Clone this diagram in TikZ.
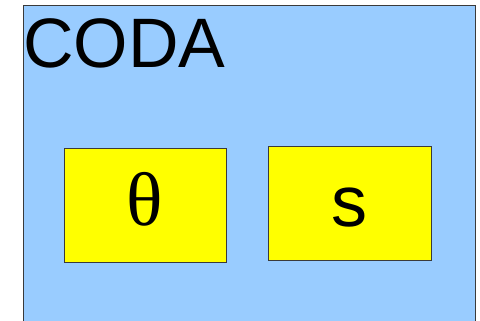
\documentclass[tikz,border=0pt]{standalone}
\usepackage{fontspec}
\setmainfont{Liberation Sans}
\newfontfamily\thetafont{Liberation Serif}
\usepackage{tikz}
\usetikzlibrary{positioning}
\definecolor{skyBlue}{HTML}{99CCFF}
\definecolor{boxYellow}{HTML}{FFFF00}
\definecolor{edge}{HTML}{3A3A3A}

\begin{document}
\begin{tikzpicture}[x=1pt,y=-1pt,
  param/.style={draw=edge,fill=boxYellow,line width=0.8pt,minimum width=162pt,minimum height=114pt,inner sep=0pt,font=\fontsize{72}{72}\selectfont},
  title/.style={anchor=base west,inner sep=0pt,font=\fontsize{70}{70}\selectfont}
]
  \useasboundingbox (0,0) rectangle (480,321);
  \begin{scope}
    \clip (0,0) rectangle (480,321);
    \filldraw[fill=skyBlue,draw=edge,line width=0.8pt] (23,5) rectangle (475,330);
  \end{scope}
  \node[title] (coda) at (23,68) {CODA};
  \node[param] (theta) at (145,205) {\raisebox{6pt}[\height][\depth]{\thetafont\fontsize{76}{76}\selectfont θ}};
  \node[param,minimum width=163pt] (s) at (349.5,203) {\raisebox{-5pt}[\height][\depth]{s}};
\end{tikzpicture}
\end{document}
